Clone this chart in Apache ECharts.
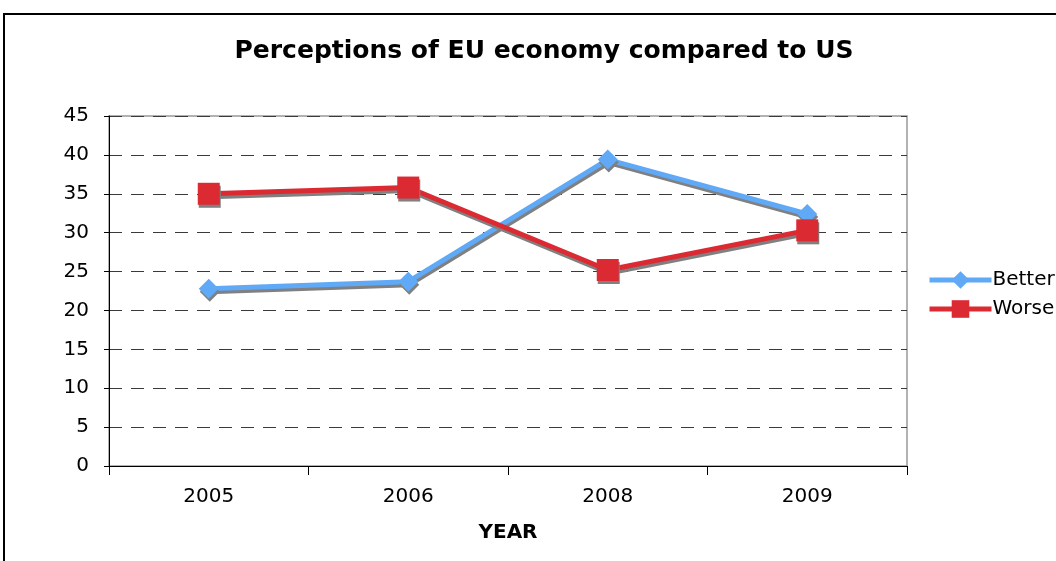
<!DOCTYPE html>
<html lang="en">
<head>
  <meta charset="UTF-8">
  <title>Perceptions of EU economy compared to US</title>
  <style>
    body { margin: 0; padding: 0; background: #fff; }
    #chart { width: 1056px; height: 561px; }
  </style>
</head>
<body>
  <div id="chart"></div>
  <script src="https://cdn.jsdelivr.net/npm/echarts@6/dist/echarts.min.js"></script>
  <script>
    var years = ['2005', '2006', '2008', '2009'];
    var better = [22.8, 23.7, 39.4, 32.4];
    var worse = [35.0, 35.8, 25.2, 30.3];

    var chart = echarts.init(document.getElementById('chart'));
    var font = 'Verdana, "DejaVu Sans", sans-serif';

    // shadow shared by both lines and markers
    var shadow = { shadowColor: '#808080', shadowOffsetX: 1, shadowOffsetY: 3, shadowBlur: 0 };

    var option = {
      animation: false,
      textStyle: { fontFamily: font },
      title: {
        text: 'Perceptions of EU economy compared to US',
        left: 539,
        textAlign: 'center',
        top: 34,
        textStyle: { fontSize: 25, fontWeight: 'bold', color: '#000', fontFamily: font }
      },
      graphic: [{
        type: 'rect',
        shape: { x: 4, y: 14, width: 1070, height: 580 },
        style: { fill: 'none', stroke: '#000', lineWidth: 2 },
        silent: true
      }, {
        type: 'rect',
        shape: { x: 109, y: 116, width: 798, height: 350 },
        style: { fill: 'none', stroke: '#999', lineWidth: 1.5 },
        silent: true,
        z: -1
      }],
      legend: {
        orient: 'vertical',
        left: 922,
        top: 265,
        itemWidth: 62,
        itemHeight: 22,
        itemGap: 9,
        lineStyle: { width: 5 },
        textStyle: { fontSize: 20, color: '#000', fontFamily: font, padding: [0, 0, 0, -4] },
        data: ['Better', 'Worse']
      },
      grid: { left: 109, right: 149, top: 116, bottom: 95, containLabel: false },
      xAxis: {
        type: 'category',
        data: years,
        boundaryGap: true,
        name: 'YEAR',
        nameLocation: 'middle',
        nameGap: 57,
        nameTextStyle: { fontSize: 20, fontWeight: 'bold', color: '#000', fontFamily: font, verticalAlign: 'top' },
        axisLine: { lineStyle: { color: '#000', width: 1 } },
        axisTick: { show: true, length: 9, alignWithLabel: false, lineStyle: { color: '#000' } },
        axisLabel: { fontSize: 20, color: '#000', margin: 21 },
        splitLine: { show: false }
      },
      yAxis: {
        type: 'value',
        min: 0,
        max: 45,
        interval: 5,
        axisLine: { show: true, lineStyle: { color: '#000', width: 1 } },
        axisTick: { show: true, length: 5, lineStyle: { color: '#000' } },
        axisLabel: { fontSize: 20, color: '#000', margin: 20 },
        splitLine: { show: true, lineStyle: { color: '#3a3a3a', type: [13, 9], width: 1 } }
      },
      series: [{
        name: 'Better',
        type: 'line',
        data: better,
        symbol: 'diamond',
        symbolSize: 20,
        color: '#5fa9f7',
        lineStyle: Object.assign({ width: 5, color: '#5fa9f7' }, shadow),
        itemStyle: Object.assign({ color: '#5fa9f7' }, shadow),
        z: 3
      }, {
        name: 'Worse',
        type: 'line',
        data: worse,
        symbol: 'rect',
        symbolSize: 22,
        color: '#dc2a33',
        lineStyle: Object.assign({ width: 5, color: '#dc2a33' }, shadow),
        itemStyle: Object.assign({ color: '#dc2a33' }, shadow),
        z: 4
      }]
    };

    chart.setOption(option);
  </script>
</body>
</html>
